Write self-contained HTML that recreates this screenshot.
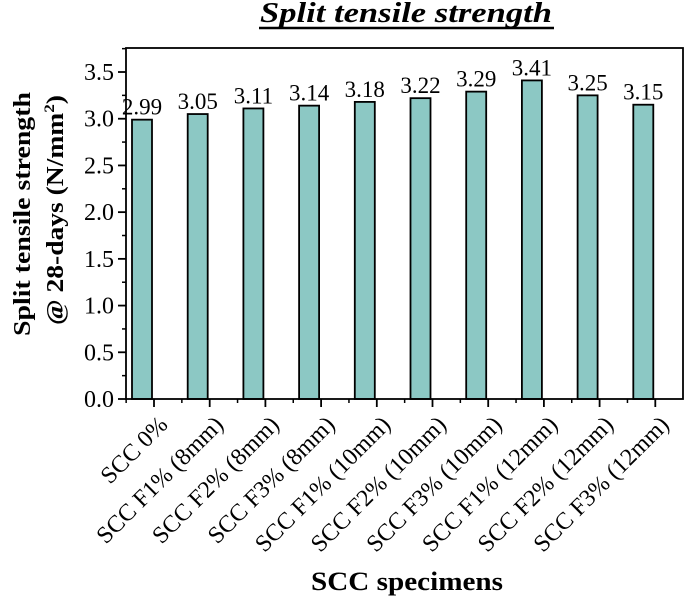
<!DOCTYPE html>
<html><head><meta charset="utf-8"><style>
html,body{margin:0;padding:0;background:#fff}
svg{display:block;font-family:"Liberation Serif",serif}
</style></head><body>
<svg id="chart" width="685" height="599" viewBox="0 0 685 599" xmlns="http://www.w3.org/2000/svg">
<text x="406" y="22" text-anchor="middle" font-size="28" font-weight="bold" font-style="italic" textLength="292" lengthAdjust="spacingAndGlyphs">Split tensile strength</text>
<line x1="259" y1="28" x2="554" y2="28" stroke="#000" stroke-width="2.5"/>
<g font-weight="bold" font-size="24">
<text transform="translate(30,214) rotate(-90)" text-anchor="middle" textLength="244" lengthAdjust="spacingAndGlyphs">Split tensile strength</text>
<text transform="translate(63,210) rotate(-90)" text-anchor="middle" textLength="230" lengthAdjust="spacingAndGlyphs">@ 28-days (N/mm<tspan font-size="15" dy="-9">2</tspan><tspan dy="9">)</tspan></text>
</g>
<text x="407" y="590" text-anchor="middle" font-size="26" font-weight="bold" textLength="192" lengthAdjust="spacingAndGlyphs">SCC specimens</text>
<g id="plot"></g>
</svg>
<script>
const categories = ["SCC 0%","SCC F1% (8mm)","SCC F2% (8mm)","SCC F3% (8mm)","SCC F1% (10mm)","SCC F2% (10mm)","SCC F3% (10mm)","SCC F1% (12mm)","SCC F2% (12mm)","SCC F3% (12mm)"];
const values = [2.99,3.05,3.11,3.14,3.18,3.22,3.29,3.41,3.25,3.15];
const valueLabels = ["2.99","3.05","3.11","3.14","3.18","3.22","3.29","3.41","3.25","3.15"];
const yTicks = [0,0.5,1.0,1.5,2.0,2.5,3.0,3.5];
const yTickLabels = ["0.0","0.5","1.0","1.5","2.0","2.5","3.0","3.5"];

const NS="http://www.w3.org/2000/svg";
const L=126,R=683,T=48,B=399,yMax=3.757;
const y=v=>B-(v/yMax)*(B-T);
const step=55.7;
const xc=i=>142+i*step;
const g=document.getElementById('plot');
function mk(tag,attrs){const e=document.createElementNS(NS,tag);for(const k in attrs)e.setAttribute(k,attrs[k]);g.appendChild(e);return e;}

values.forEach((v,i)=>{
  const r=mk('rect',{x:xc(i)-10,y:y(v),width:20,height:B-y(v),fill:'#8cc8c4',stroke:'#000','stroke-width':1.8});
  
  
  const t=mk('text',{x:xc(i),y:y(v)-5,'text-anchor':'middle','font-size':23});
  t.textContent=valueLabels[i];
  
  
});
const f=mk('rect',{x:L,y:T,width:R-L,height:B-T,fill:'none',stroke:'#000','stroke-width':1.8});


yTicks.forEach((v,i)=>{
  const tk=mk('line',{x1:L-8,x2:L,y1:y(v),y2:y(v),stroke:'#000','stroke-width':1.8});
  
  
  const m=mk('line',{x1:L-4,x2:L,y1:y(v+0.25),y2:y(v+0.25),stroke:'#000','stroke-width':1.5});
  
  
  const t=mk('text',{x:L-12,y:y(v)+8,'text-anchor':'end','font-size':24});
  t.textContent=yTickLabels[i];
  
  
});
categories.forEach((c,i)=>{
  const tx=xc(i)+12;
  const tk=mk('line',{x1:tx,x2:tx,y1:B,y2:B+8,stroke:'#000','stroke-width':1.8});
  
  
  const m=mk('line',{x1:tx-step/2,x2:tx-step/2,y1:B,y2:B+4,stroke:'#000','stroke-width':1.5});
  
  
  const t=mk('text',{transform:`translate(${tx+15},${B+27}) rotate(-45)`,'text-anchor':'end','font-size':24});
  t.textContent=c;
  
  
});
</script>
</body></html>
